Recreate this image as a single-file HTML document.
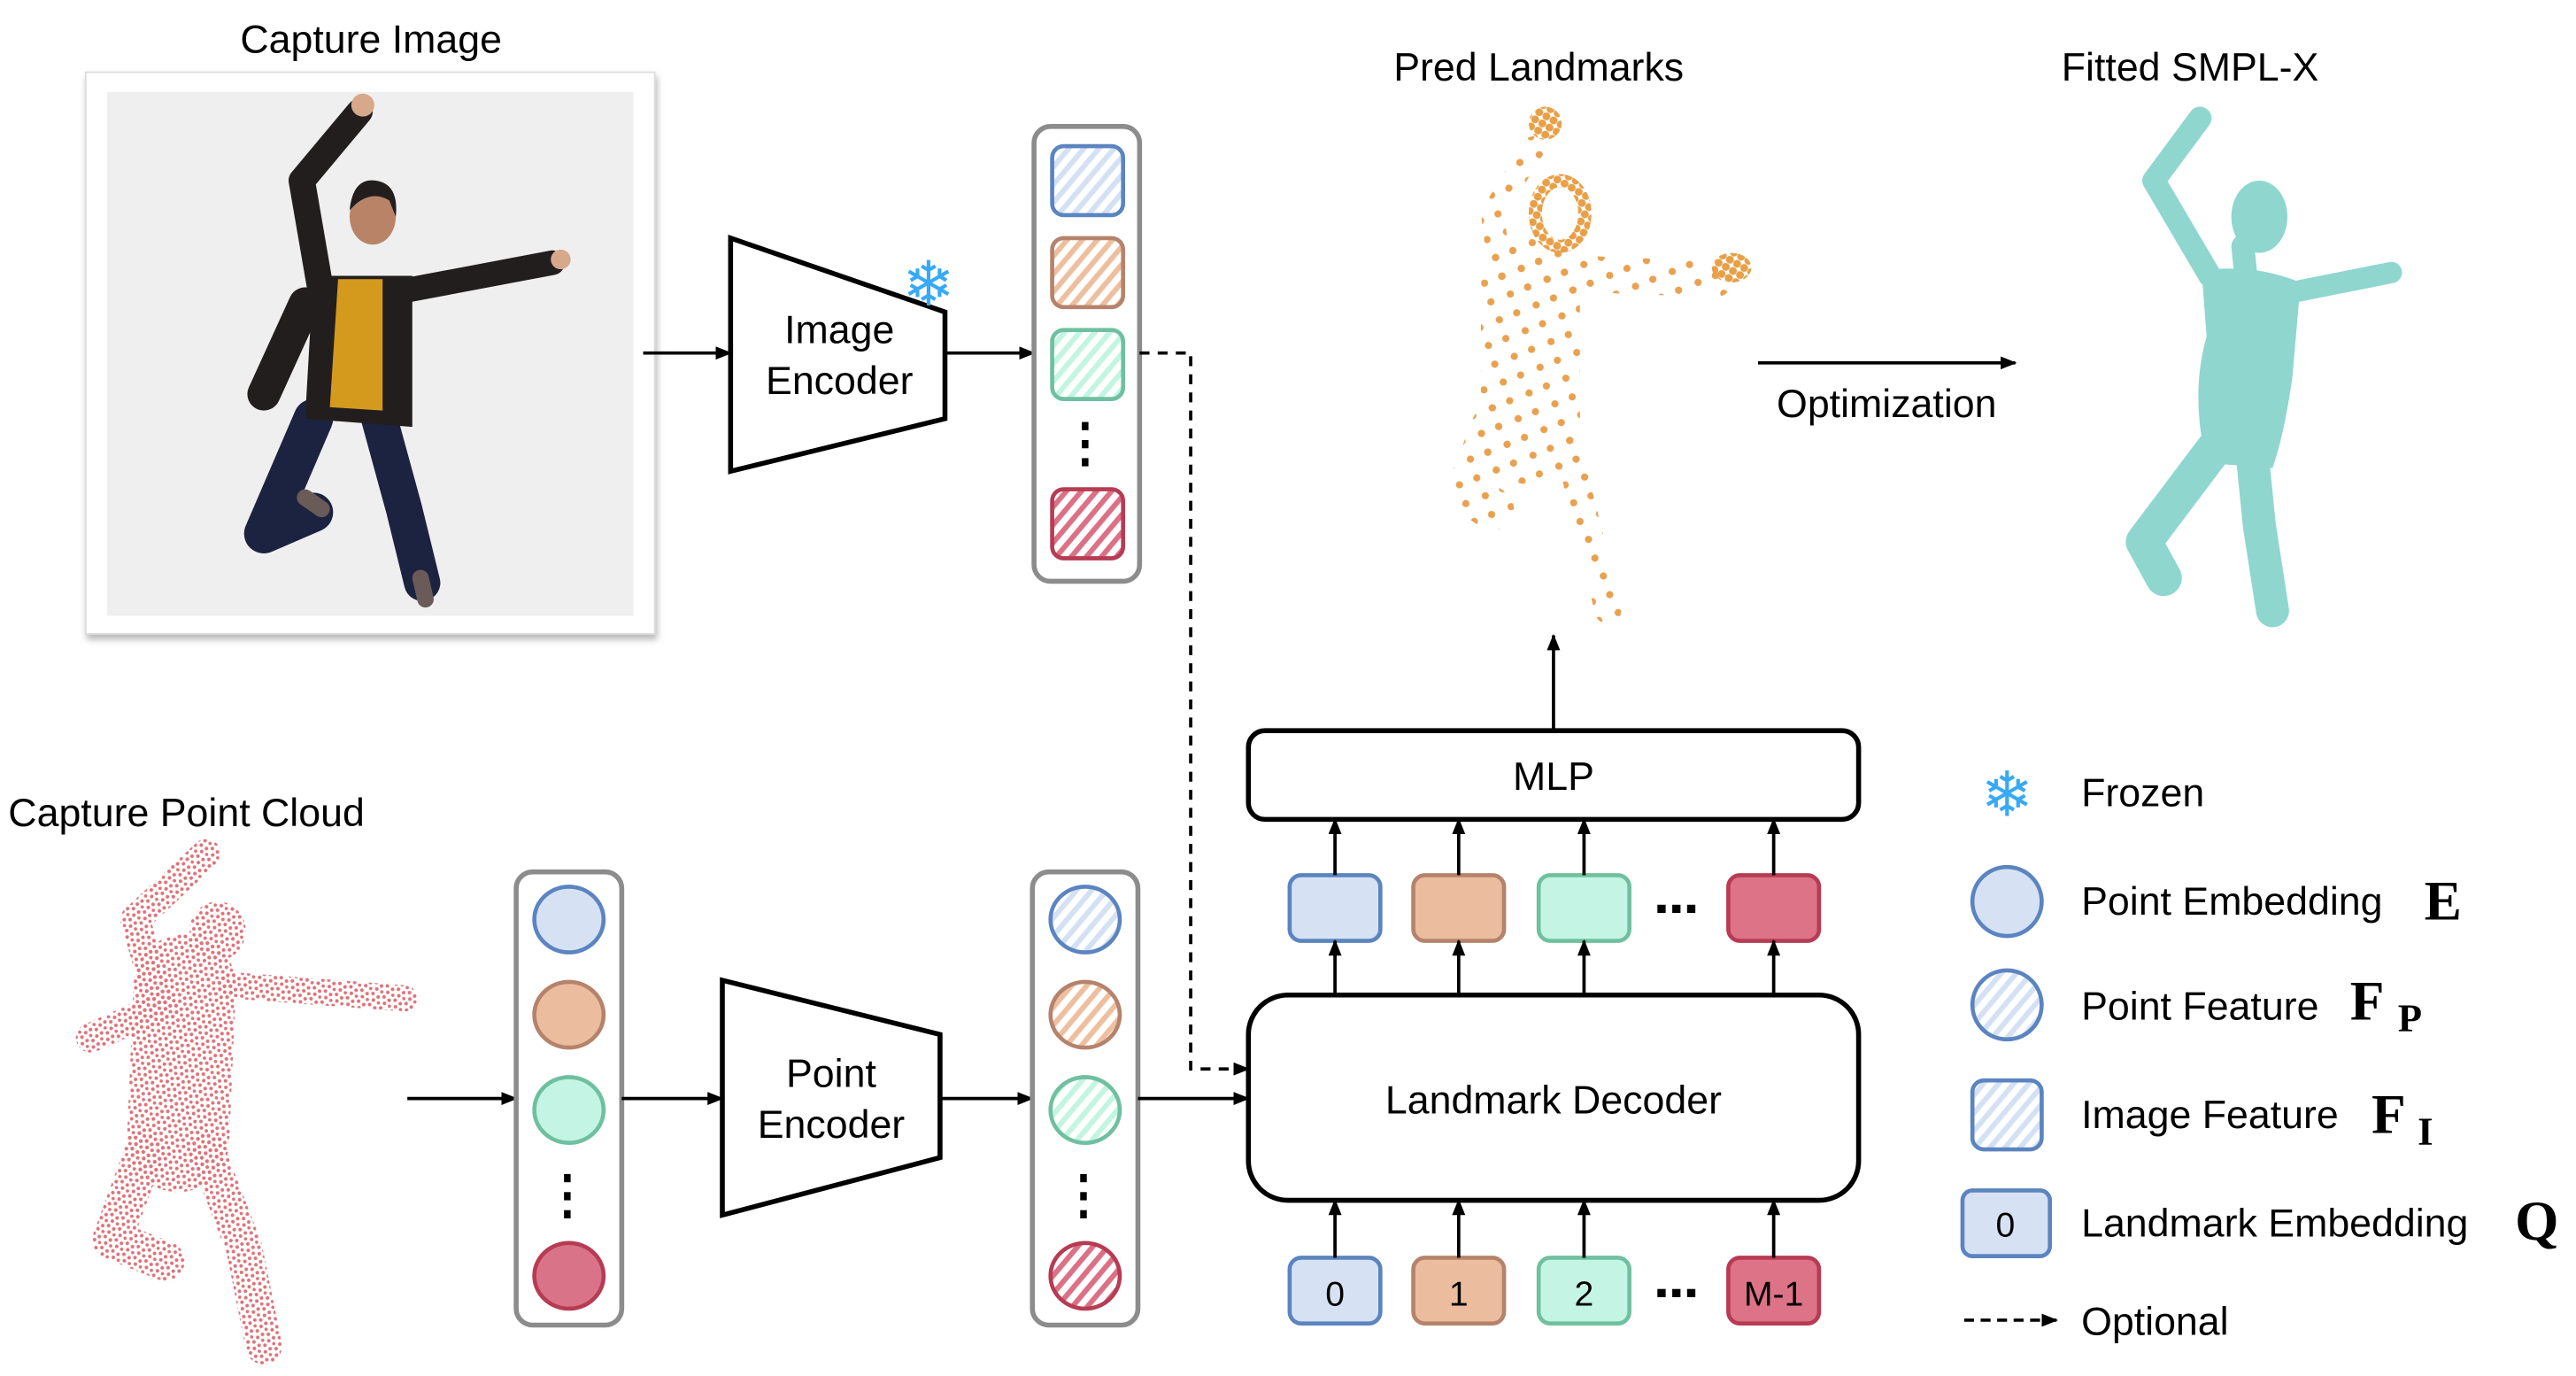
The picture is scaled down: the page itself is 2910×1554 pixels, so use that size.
<!DOCTYPE html>
<html><head><meta charset="utf-8"><style>
html,body{margin:0;padding:0;background:#fff;}
svg{display:block;}
text{font-family:"Liberation Sans",sans-serif;fill:#000;}
.m{font-family:"Liberation Serif",serif;font-weight:bold;}
</style></head><body>
<svg width="2910" height="1554" viewBox="0 0 1562 838" preserveAspectRatio="none" xmlns="http://www.w3.org/2000/svg">
<defs>
<marker id="ar" markerWidth="10" markerHeight="8" refX="9" refY="4" orient="auto" markerUnits="userSpaceOnUse"><path d="M0,0 L10,4 L0,8 z" fill="#000"/></marker>
<pattern id="hb" width="7" height="7" patternUnits="userSpaceOnUse" patternTransform="rotate(40)"><rect width="7" height="7" fill="#fff"/><rect width="3.2" height="7" fill="#d4e1f4"/></pattern>
<pattern id="ho" width="7" height="7" patternUnits="userSpaceOnUse" patternTransform="rotate(40)"><rect width="7" height="7" fill="#fff"/><rect width="3.2" height="7" fill="#eebf9f"/></pattern>
<pattern id="hg" width="7" height="7" patternUnits="userSpaceOnUse" patternTransform="rotate(40)"><rect width="7" height="7" fill="#fff"/><rect width="3.2" height="7" fill="#c2f5e2"/></pattern>
<pattern id="hr" width="7" height="7" patternUnits="userSpaceOnUse" patternTransform="rotate(40)"><rect width="7" height="7" fill="#fff"/><rect width="3.2" height="7" fill="#dc7085"/></pattern>
<pattern id="pd" width="7" height="7" patternUnits="userSpaceOnUse" patternTransform="rotate(17)">
<circle cx="1.2" cy="1.5" r="1.1" fill="#de7278"/><circle cx="4.8" cy="2.6" r="1.1" fill="#de7278"/><circle cx="2.6" cy="5.2" r="1.1" fill="#de7278"/><circle cx="6" cy="6" r="1" fill="#de7278"/></pattern>
<pattern id="od" width="17" height="17" patternUnits="userSpaceOnUse" patternTransform="rotate(23)">
<circle cx="3" cy="3" r="2.2" fill="#e9a150"/><circle cx="12" cy="11" r="2.2" fill="#e9a150"/></pattern>
<pattern id="odd" width="5" height="5" patternUnits="userSpaceOnUse" patternTransform="rotate(30)">
<circle cx="2.5" cy="2.5" r="2.4" fill="#e8a048"/></pattern>
<filter id="sh" x="-10%" y="-10%" width="130%" height="130%"><feDropShadow dx="1" dy="3" stdDeviation="2" flood-color="#888" flood-opacity="0.6"/></filter>
</defs>

<text x="225" y="32" font-size="24" text-anchor="middle">Capture Image</text>
<rect x="52" y="44" width="345" height="342" fill="#fff" stroke="#ddd" filter="url(#sh)"/>
<rect x="65" y="56" width="319" height="319" fill="#efefef"/>
<g stroke-linecap="round" stroke-linejoin="round" fill="none">
<path d="M195,180 L183,110 L218,68" stroke="#231e1e" stroke-width="16"/>
<path d="M240,178 L335,160" stroke="#231e1e" stroke-width="15"/>
<path d="M185,185 L160,240" stroke="#231e1e" stroke-width="20"/>
<path d="M190,255 L160,325 L190,312" stroke="#1c2340" stroke-width="24"/>
<path d="M230,255 L245,310 L256,355" stroke="#1c2340" stroke-width="22"/>
<path d="M185,303 L195,310" stroke="#6a5a58" stroke-width="10"/>
<path d="M255,352 L258,365" stroke="#6a5a58" stroke-width="10"/>
</g>
<circle cx="220" cy="64" r="7" fill="#d7a88a"/>
<circle cx="340" cy="158" r="6" fill="#d7a88a"/>
<path d="M190,168 L250,168 L250,260 L185,255 Z" fill="#231e1e"/>
<path d="M205,170 L232,170 L232,250 L200,248 Z" fill="#d49a1e"/>
<ellipse cx="226" cy="132" rx="14" ry="17" fill="#b98368"/>
<path d="M212,128 Q214,108 228,110 Q242,112 240,132 L236,122 Q226,116 216,124 Z" fill="#231e1e"/>

<line x1="390" y1="215" x2="443" y2="215" stroke="#000" stroke-width="2" marker-end="url(#ar)"/>
<path d="M443,145 L573,190 L573,255 L443,287 Z" fill="#fff" stroke="#000" stroke-width="3"/>
<text x="509" y="209" font-size="24" text-anchor="middle">Image</text>
<text x="509" y="240" font-size="24" text-anchor="middle">Encoder</text>
<text x="563" y="186" font-size="38" text-anchor="middle" style="fill:#38a9f5">❄</text>
<line x1="573" y1="215" x2="627" y2="215" stroke="#000" stroke-width="2" marker-end="url(#ar)"/>

<rect x="627" y="77" width="64" height="277" rx="10" fill="#fff" stroke="#8c8c8c" stroke-width="3"/>
<rect x="638" y="89" width="43" height="42" rx="7" fill="url(#hb)" stroke="#5b84c0" stroke-width="2.5"/>
<rect x="638" y="145" width="43" height="42" rx="7" fill="url(#ho)" stroke="#b5836b" stroke-width="2.5"/>
<rect x="638" y="201" width="43" height="42" rx="7" fill="url(#hg)" stroke="#6fc0a0" stroke-width="2.5"/>
<rect x="638" y="298" width="43" height="42" rx="7" fill="url(#hr)" stroke="#b63b53" stroke-width="2.5"/>
<g fill="#000"><rect x="656" y="257" width="4" height="5"/><rect x="656" y="268" width="4" height="5"/><rect x="656" y="279" width="4" height="5"/></g>
<path d="M691,215 L722,215 L722,651 L757,651" fill="none" stroke="#000" stroke-width="2" stroke-dasharray="6,5" marker-end="url(#ar)"/>

<text x="5" y="503" font-size="24">Capture Point Cloud</text>
<g stroke="url(#pd)" fill="none" stroke-linecap="round" stroke-linejoin="round">
<path d="M112,600 L108,695" stroke-width="62"/>
<path d="M95,605 L82,560 L125,520" stroke-width="18"/>
<path d="M140,600 L245,608" stroke-width="16"/>
<path d="M100,612 L55,632" stroke-width="18"/>
<path d="M88,700 L68,755 L100,768" stroke-width="24"/>
<path d="M125,700 L148,760 L160,820" stroke-width="22"/>
</g>
<ellipse cx="132" cy="567" rx="17" ry="18" fill="url(#pd)"/>
<line x1="247" y1="669" x2="313" y2="669" stroke="#000" stroke-width="2" marker-end="url(#ar)"/>
<rect x="313" y="531" width="64" height="276" rx="10" fill="#fff" stroke="#8c8c8c" stroke-width="3"/>
<ellipse cx="345" cy="560" rx="21" ry="20" fill="#d6e2f3" stroke="#5b84c0" stroke-width="2.5"/>
<ellipse cx="345" cy="618" rx="21" ry="20" fill="#ebbd9e" stroke="#b5836b" stroke-width="2.5"/>
<ellipse cx="345" cy="676" rx="21" ry="20" fill="#c4f5e4" stroke="#6fc0a0" stroke-width="2.5"/>
<ellipse cx="345" cy="777" rx="21" ry="20" fill="#d97488" stroke="#b63b53" stroke-width="2.5"/>
<g fill="#000"><rect x="342" y="715" width="4" height="5"/><rect x="342" y="726" width="4" height="5"/><rect x="342" y="737" width="4" height="5"/></g>
<line x1="377" y1="669" x2="438" y2="669" stroke="#000" stroke-width="2" marker-end="url(#ar)"/>
<path d="M438,597 L570,630 L570,705 L438,740 Z" fill="#fff" stroke="#000" stroke-width="3"/>
<text x="504" y="662" font-size="24" text-anchor="middle">Point</text>
<text x="504" y="693" font-size="24" text-anchor="middle">Encoder</text>
<line x1="570" y1="669" x2="626" y2="669" stroke="#000" stroke-width="2" marker-end="url(#ar)"/>
<rect x="626" y="531" width="64" height="276" rx="10" fill="#fff" stroke="#8c8c8c" stroke-width="3"/>
<ellipse cx="658" cy="560" rx="21" ry="20" fill="url(#hb)" stroke="#5b84c0" stroke-width="2.5"/>
<ellipse cx="658" cy="618" rx="21" ry="20" fill="url(#ho)" stroke="#b5836b" stroke-width="2.5"/>
<ellipse cx="658" cy="676" rx="21" ry="20" fill="url(#hg)" stroke="#6fc0a0" stroke-width="2.5"/>
<ellipse cx="658" cy="777" rx="21" ry="20" fill="url(#hr)" stroke="#b63b53" stroke-width="2.5"/>
<g fill="#000"><rect x="655" y="715" width="4" height="5"/><rect x="655" y="726" width="4" height="5"/><rect x="655" y="737" width="4" height="5"/></g>
<line x1="690" y1="669" x2="757" y2="669" stroke="#000" stroke-width="2" marker-end="url(#ar)"/>

<rect x="757" y="606" width="370" height="125" rx="24" fill="#fff" stroke="#000" stroke-width="3"/>
<text x="942" y="678" font-size="24" text-anchor="middle">Landmark Decoder</text>
<rect x="757" y="445" width="370" height="54" rx="10" fill="#fff" stroke="#000" stroke-width="3"/>
<text x="942" y="481" font-size="24" text-anchor="middle">MLP</text>
<line x1="942" y1="445" x2="942" y2="387" stroke="#000" stroke-width="2" marker-end="url(#ar)"/>

<g stroke-width="2.5">
<rect x="782" y="533" width="55" height="40" rx="7" fill="#d6e2f3" stroke="#5b84c0"/>
<rect x="857" y="533" width="55" height="40" rx="7" fill="#ebbd9e" stroke="#b5836b"/>
<rect x="933" y="533" width="55" height="40" rx="7" fill="#c4f5e4" stroke="#6fc0a0"/>
<rect x="1048" y="533" width="55" height="40" rx="7" fill="#dc7386" stroke="#b63b53"/>
<rect x="782" y="766" width="55" height="40" rx="7" fill="#d6e2f3" stroke="#5b84c0"/>
<rect x="857" y="766" width="55" height="40" rx="7" fill="#ebbd9e" stroke="#b5836b"/>
<rect x="933" y="766" width="55" height="40" rx="7" fill="#c4f5e4" stroke="#6fc0a0"/>
<rect x="1048" y="766" width="55" height="40" rx="7" fill="#dc7386" stroke="#b63b53"/>
</g>
<g font-size="21" text-anchor="middle">
<text x="809.5" y="795">0</text><text x="884.5" y="795">1</text><text x="960.5" y="795">2</text><text x="1075.5" y="795">M-1</text>
</g>
<g stroke="#000" stroke-width="2" marker-end="url(#ar)">
<line x1="809.5" y1="766" x2="809.5" y2="731"/><line x1="884.5" y1="766" x2="884.5" y2="731"/><line x1="960.5" y1="766" x2="960.5" y2="731"/><line x1="1075.5" y1="766" x2="1075.5" y2="731"/>
<line x1="809.5" y1="606" x2="809.5" y2="573"/><line x1="884.5" y1="606" x2="884.5" y2="573"/><line x1="960.5" y1="606" x2="960.5" y2="573"/><line x1="1075.5" y1="606" x2="1075.5" y2="573"/>
<line x1="809.5" y1="533" x2="809.5" y2="499"/><line x1="884.5" y1="533" x2="884.5" y2="499"/><line x1="960.5" y1="533" x2="960.5" y2="499"/><line x1="1075.5" y1="533" x2="1075.5" y2="499"/>
</g>
<g fill="#000">
<rect x="1005" y="785" width="5" height="5"/><rect x="1014" y="785" width="5" height="5"/><rect x="1023" y="785" width="5" height="5"/>
<rect x="1005" y="551" width="5" height="5"/><rect x="1014" y="551" width="5" height="5"/><rect x="1023" y="551" width="5" height="5"/>
</g>

<text x="933" y="49" font-size="24" text-anchor="middle">Pred Landmarks</text>
<g stroke="url(#od)" fill="none" stroke-linecap="round" stroke-linejoin="round">
<path d="M930,90 L905,130 L910,170" stroke-width="14"/>
<path d="M915,165 L1040,170" stroke-width="22"/>
<path d="M928,175 L928,265" stroke-width="60"/>
<path d="M905,260 L890,300 L905,310" stroke-width="26"/>
<path d="M950,270 L965,330 L975,372" stroke-width="16"/>
</g>
<ellipse cx="937" cy="75" rx="10" ry="10" fill="url(#odd)"/>
<ellipse cx="1050" cy="163" rx="12" ry="9" fill="url(#odd)"/>
<ellipse cx="946" cy="130" rx="15" ry="20" fill="none" stroke="url(#odd)" stroke-width="8"/>
<line x1="1066" y1="221" x2="1222" y2="221" stroke="#000" stroke-width="2" marker-end="url(#ar)"/>
<text x="1144" y="254" font-size="24" text-anchor="middle">Optimization</text>

<text x="1328" y="49" font-size="24" text-anchor="middle">Fitted SMPL-X</text>
<g stroke="#8fd6cf" fill="none" stroke-linecap="round" stroke-linejoin="round">
<path d="M1340,168 L1306,110 L1334,72" stroke-width="14"/>
<path d="M1390,178 L1450,166" stroke-width="13"/>
<path d="M1345,270 L1300,330 L1312,352" stroke-width="22"/>
<path d="M1365,270 L1370,320 L1378,372" stroke-width="20"/>
<path d="M1360,150 L1362,170" stroke-width="14"/>
</g>
<path d="M1335,165 Q1365,160 1395,172 L1390,230 Q1385,265 1378,285 L1338,282 Q1328,240 1338,205 Z" fill="#8fd6cf"/>
<ellipse cx="1370" cy="132" rx="17" ry="22" fill="#8fd6cf"/>

<text x="1217" y="497" font-size="38" text-anchor="middle" style="fill:#38a9f5">❄</text>
<text x="1262" y="491" font-size="24">Frozen</text>
<ellipse cx="1217" cy="549" rx="21" ry="21" fill="#d6e2f3" stroke="#5b84c0" stroke-width="2.5"/>
<text x="1262" y="557" font-size="24">Point Embedding</text>
<text x="1470" y="560" font-size="34" class="m">E</text>
<ellipse cx="1217" cy="612" rx="21" ry="21" fill="url(#hb)" stroke="#5b84c0" stroke-width="2.5"/>
<text x="1262" y="621" font-size="24">Point Feature</text>
<text x="1425" y="621" font-size="34" class="m">F</text><text x="1454" y="628" font-size="24" class="m">P</text>
<rect x="1196" y="658" width="42" height="42" rx="7" fill="url(#hb)" stroke="#5b84c0" stroke-width="2.5"/>
<text x="1262" y="687" font-size="24">Image Feature</text>
<text x="1438" y="690" font-size="34" class="m">F</text><text x="1466" y="697" font-size="24" class="m">I</text>
<rect x="1190" y="725" width="53" height="40" rx="6" fill="#d6e2f3" stroke="#5b84c0" stroke-width="2.5"/>
<text x="1216" y="753" font-size="21" text-anchor="middle">0</text>
<text x="1262" y="753" font-size="24">Landmark Embedding</text>
<text x="1525" y="755" font-size="34" class="m">Q</text>
<path d="M1191,804 L1247,804" stroke="#000" stroke-width="2" stroke-dasharray="6,4" marker-end="url(#ar)"/>
<text x="1262" y="813" font-size="24">Optional</text>
</svg>
</body></html>
